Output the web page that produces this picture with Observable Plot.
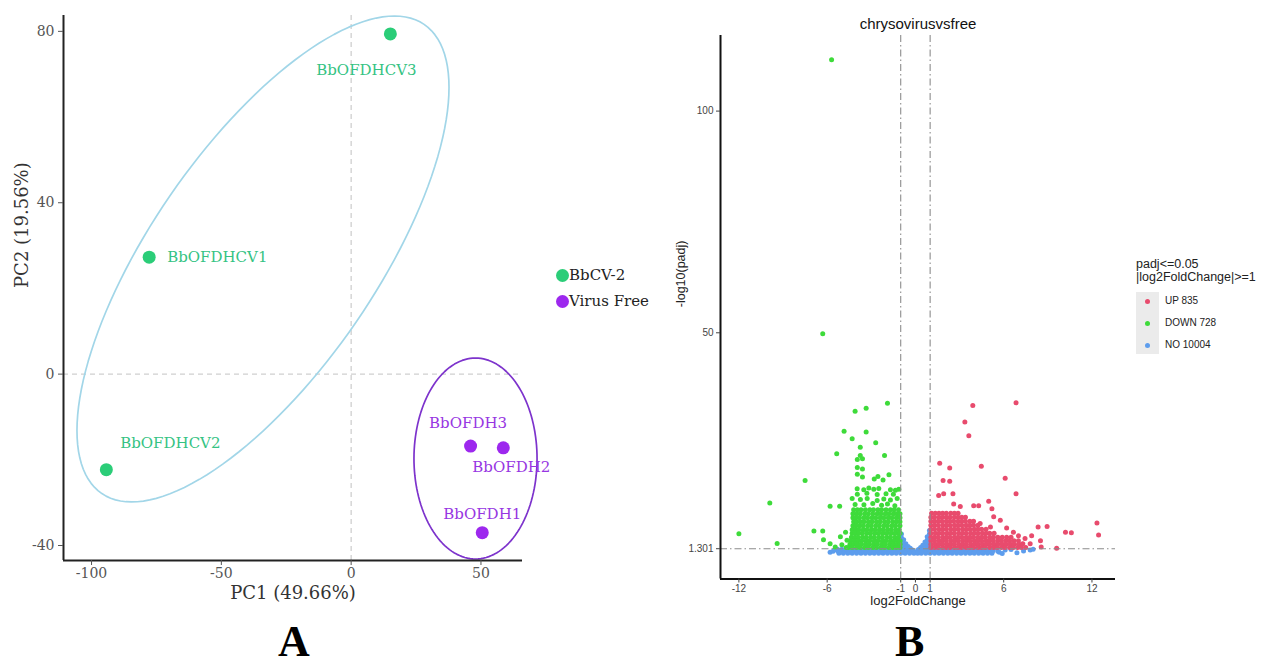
<!DOCTYPE html>
<html>
<head>
<meta charset="utf-8">
<script src="https://cdn.jsdelivr.net/npm/d3@7"></script>
<script src="https://cdn.jsdelivr.net/npm/@observablehq/plot@0.6"></script>
<style>
html,body{margin:0;padding:0;background:#fff;}
body{width:1267px;height:664px;position:relative;overflow:hidden;}
.abs{position:absolute;white-space:nowrap;}
#panelA{position:absolute;left:0;top:0;}
#panelB{position:absolute;left:640px;top:0;}
.tag{font-family:"Liberation Serif",serif;font-weight:bold;font-size:44px;line-height:40px;height:40px;color:#000;}
</style>
</head>
<body>
<div id="panelA"></div>
<div id="panelB"></div>
<div id="legendA"></div>
<div id="legendB"></div>
<div class="abs tag" style="left:278px;top:622px;">A</div>
<div class="abs tag" style="left:895px;top:622px;">B</div>
<script>
// ---------------- Panel A : PCA ----------------
const sampleNames  = ["BbOFDHCV1","BbOFDHCV2","BbOFDHCV3","BbOFDH1","BbOFDH2","BbOFDH3"];
const sampleGroups = ["BbCV-2","BbCV-2","BbCV-2","Virus Free","Virus Free","Virus Free"];
const pc1Values    = [-77.8, -94.3, 15.1, 50.5, 58.6, 46.0];
const pc2Values    = [27.3, -22.3, 79.4, -37.0, -17.2, -16.8];
const pcaXTicks    = [-100, -50, 0, 50];
const pcaYTicks    = [-40, 0, 40, 80];
const pcaXLabel    = "PC1 (49.66%)";
const pcaYLabel    = "PC2 (19.56%)";
const groupNames   = ["BbCV-2", "Virus Free"];
// confidence ellipses (centre and covariance, data units)
const ellipseCenterX = [-33.96, 47.9];
const ellipseCenterY = [26.87, -19.7];
const ellipseVarX    = [5134, 562];
const ellipseVarY    = [3216, 550];
const ellipseCovXY   = [2869, 0];

// ---------------- Panel B : volcano ----------------
const volcanoTitle  = "chrysovirusvsfree";
const volcanoXLabel = "log2FoldChange";
const volcanoYLabel = "-log10(padj)";
const volcanoXTicks = [-12, -6, -1, 0, 1, 6, 12];
const volcanoYTicks = [1.301, 50, 100];
const fcThreshold   = [-1, 1];
const padjThreshold = [1.301];
const legendBTitle  = ["padj<=0.05", "|log2FoldChange|>=1"];
const legendBLabels = ["UP 835", "DOWN 728", "NO 10004"];

// DOWN genes: isolated points [log2FC, -log10(padj)]
const downScatter = [
  [-5.7,111.6],[-6.3,49.8],
  [-1.9,34.1],[-3.35,33.0],[-4.1,32.3],[-4.85,27.8],[-3.35,27.6],[-4.3,26.1],[-2.7,25.2],[-3.75,24.2],
  [-5.35,22.7],[-2.1,22.3],[-3.75,22.3],[-3.95,21.4],[-3.6,21.6],[-3.95,19.6],[-3.6,19.3],[-3.95,18.1],
  [-3.6,17.5],[-2.55,17.6],[-1.8,18.0],[-2.2,16.8],[-2.8,17.0],[-7.5,16.7],
  [-3.96,14.8],[-3.51,14.6],[-3.17,15.0],[-2.83,14.7],[-2.49,14.9],[-1.7,14.6],[-1.36,14.5],[-1.13,14.7],
  [-3.95,13.6],[-3.3,13.8],[-2.6,13.5],[-2.0,13.7],[-1.5,13.6],
  [-4.3,12.6],[-3.74,12.4],[-3.28,12.6],[-2.6,12.2],[-2.15,12.5],[-1.7,12.3],[-1.24,12.6],
  [-4.1,11.3],[-3.5,11.2],[-2.9,11.5],[-2.3,11.1],[-1.9,11.4],[-1.4,11.0],
  [-9.9,11.6],[-5.8,10.9],[-5.15,10.9],
  [-12.0,4.7],[-9.4,2.5],[-6.9,5.3],[-6.3,5.3],[-6.25,3.3],[-5.8,2.4],[-5.45,1.7],[-5.1,4.0],
  [-4.65,3.2],[-4.75,5.0],[-5.0,2.2],[-4.7,1.6]
];
// DOWN genes: dense block, rows of [-log10(padj), log2FC values]
const downRows = [
  [10.1,[-4.2,-3.95,-3.7,-3.4,-3.1,-2.85,-2.55,-2.3,-2.0,-1.7,-1.45,-1.15]],
  [9.2,[-4.25,-4.0,-3.75,-3.45,-3.2,-2.9,-2.6,-2.35,-2.05,-1.8,-1.5,-1.25,-1.05]],
  [8.3,[-4.25,-4.05,-3.8,-3.5,-3.25,-2.95,-2.7,-2.4,-2.15,-1.85,-1.6,-1.3,-1.05]],
  [7.4,[-4.2,-4.0,-3.75,-3.5,-3.2,-2.95,-2.65,-2.4,-2.1,-1.85,-1.55,-1.3,-1.05]],
  [6.5,[-4.25,-4.05,-3.8,-3.55,-3.25,-3.0,-2.7,-2.45,-2.15,-1.9,-1.6,-1.35,-1.05]],
  [5.6,[-4.3,-4.05,-3.85,-3.55,-3.3,-3.0,-2.75,-2.45,-2.2,-1.9,-1.65,-1.35,-1.1]],
  [4.8,[-4.3,-4.1,-3.85,-3.6,-3.3,-3.05,-2.75,-2.5,-2.2,-1.95,-1.65,-1.4,-1.15,-1.04]],
  [3.9,[-4.35,-4.1,-3.9,-3.6,-3.35,-3.05,-2.8,-2.5,-2.25,-1.95,-1.7,-1.4,-1.15]],
  [3.1,[-4.4,-4.15,-3.9,-3.65,-3.35,-3.1,-2.8,-2.55,-2.25,-2.0,-1.7,-1.45,-1.2,-1.04]],
  [2.3,[-4.45,-4.2,-3.95,-3.7,-3.4,-3.15,-2.85,-2.6,-2.3,-2.05,-1.75,-1.5,-1.25,-1.04]],
  [1.55,[-4.55,-4.3,-4.0,-3.75,-3.45,-3.2,-2.9,-2.65,-2.35,-2.1,-1.8,-1.55,-1.3,-1.05]]
];
// UP genes: isolated points
const upScatter = [
  [3.9,33.6],[6.84,34.2],[3.36,29.9],[3.63,26.8],[1.65,20.6],[2.33,19.5],[4.48,19.9],[1.88,16.7],
  [2.33,16.5],[6.1,17.2],[6.84,13.7],[1.58,13.3],[1.92,13.7],[2.55,13.7],[3.96,11.0],[4.3,11.0],
  [5.2,10.3],[4.98,12.0],[2.6,11.4],[3.05,10.8],[5.77,7.7],[5.32,8.5],[5.1,6.2],[4.4,7.0],
  [6.2,6.0],[6.66,5.0],[7.0,4.2],[7.45,3.6],[7.9,4.2],[8.34,6.2],[8.95,6.3],[10.2,5.0],[10.6,4.9],
  [12.34,7.1],[12.45,4.4],[9.6,1.4],[8.5,3.1],[8.55,1.7],[7.3,2.4],[7.8,2.4]
];
// UP genes: dense block rows
const upRows = [
  [9.3,[1.1,1.35,1.6,1.85,2.1,2.4,2.65,2.9]],
  [8.4,[1.05,1.3,1.6,1.85,2.1,2.35,2.65,2.9,3.15,3.4]],
  [7.5,[1.05,1.3,1.55,1.8,2.1,2.35,2.6,2.9,3.15,3.4,3.7,3.95]],
  [6.6,[1.05,1.3,1.55,1.85,2.1,2.35,2.65,2.9,3.15,3.45,3.7,3.95,4.25]],
  [5.7,[1.05,1.3,1.6,1.85,2.1,2.4,2.65,2.9,3.2,3.45,3.7,4.0,4.25,4.5,4.8]],
  [4.8,[1.05,1.35,1.6,1.85,2.15,2.4,2.65,2.95,3.2,3.45,3.75,4.0,4.25,4.55,4.8,5.05,5.35]],
  [3.9,[1.05,1.3,1.55,1.85,2.1,2.35,2.65,2.9,3.15,3.45,3.7,3.95,4.25,4.5,4.75,5.05,5.3,5.6,5.9,6.2,6.5]],
  [3.1,[1.05,1.3,1.6,1.85,2.1,2.4,2.65,2.9,3.2,3.45,3.7,4.0,4.25,4.5,4.8,5.05,5.3,5.6,5.85,6.15,6.4,6.7,7.0]],
  [2.3,[1.05,1.35,1.6,1.85,2.15,2.4,2.65,2.95,3.2,3.45,3.75,4.0,4.25,4.55,4.8,5.05,5.35,5.6,5.9,6.15,6.45,6.7,7.0,7.25]],
  [1.55,[1.05,1.3,1.55,1.85,2.1,2.35,2.65,2.9,3.15,3.45,3.7,3.95,4.25,4.5,4.75,5.05,5.3,5.55,5.85,6.1,6.4,6.65,6.95,7.2,7.5]]
];
// NO genes: isolated points (incl. the V between -1 and 1)
const noScatter = [
  [-0.95,4.6],[-0.95,3.8],[-0.95,3.0],[-0.95,2.2],[-0.8,3.3],[-0.8,2.5],[-0.8,1.8],[-0.65,2.4],[-0.65,1.7],
  [-0.5,1.8],[-0.35,1.4],[-0.2,1.0],[0.0,0.6],
  [0.95,5.4],[0.95,4.6],[0.95,3.8],[0.95,3.0],[0.95,2.2],[0.8,4.0],[0.8,3.2],[0.8,2.4],[0.8,1.7],
  [0.65,2.8],[0.65,2.0],[0.5,2.1],[0.35,1.6],[0.2,1.1],
  [5.7,0.5],[6.1,1.0],[6.5,1.1],[6.9,0.4],[7.35,0.8],[7.8,1.0],[8.0,1.2],[-5.8,0.5],[-5.5,1.0],[5.9,0.2]
];
// NO genes: dense band rows
const noRows = [
  [1.2,[-5.3,-5.0,-4.7,-4.4,-4.1,-3.8,-3.5,-3.2,-2.9,-2.6,-2.3,-2.0,-1.7,-1.4,-1.1,-0.8,-0.5,0.5,0.8,1.1,1.4,1.7,2.0,2.3,2.6,2.9,3.2,3.5,3.8,4.1,4.4,4.7,5.0,5.3]],
  [0.75,[-5.6,-5.25,-4.95,-4.65,-4.35,-4.05,-3.75,-3.45,-3.15,-2.85,-2.55,-2.25,-1.95,-1.65,-1.35,-1.05,-0.75,-0.45,-0.2,0.2,0.45,0.75,1.05,1.35,1.65,1.95,2.25,2.55,2.85,3.15,3.45,3.75,4.05,4.35,4.65,4.95,5.25,5.6]],
  [0.3,[-5.2,-4.9,-4.6,-4.3,-4.0,-3.7,-3.4,-3.1,-2.8,-2.5,-2.2,-1.9,-1.6,-1.3,-1.0,-0.7,-0.4,-0.1,0.15,0.4,0.7,1.0,1.3,1.6,1.9,2.2,2.5,2.8,3.1,3.4,3.7,4.0,4.3,4.6,4.9,5.2]]
];

// ---------------- styles ----------------
const pointColor   = {"BbCV-2": "#2bcd78", "Virus Free": "#9d28ee"};
const labelColor   = {"BbCV-2": "#35c383", "Virus Free": "#9736e2"};
const ellipseColor = {"BbCV-2": "#a2d6e8", "Virus Free": "#7d33cc"};
const volcanoColor = {UP: "#e84b6d", DOWN: "#3edb3a", NO: "#5d9ded"};
const labelPlace = {
  BbOFDHCV1: [18, 0, "start"], BbOFDHCV2: [64, -26, "middle"], BbOFDHCV3: [-24, 36, "middle"],
  BbOFDH1: [0, -18, "middle"], BbOFDH2: [8, 19.5, "middle"], BbOFDH3: [-2.5, -22.5, "middle"]
};

// ---------------- build tables ----------------
const samples = sampleNames.map((name, i) => ({name, group: sampleGroups[i], pc1: pc1Values[i], pc2: pc2Values[i]}));
const ellipsePts = [];
groupNames.forEach((g, i) => {
  const l11 = Math.sqrt(ellipseVarX[i]);
  const l21 = ellipseCovXY[i] / l11;
  const l22 = Math.sqrt(ellipseVarY[i] - l21 * l21);
  for (let k = 0; k <= 144; k++) {
    const t = 2 * Math.PI * k / 144;
    ellipsePts.push({group: g, pc1: ellipseCenterX[i] + l11 * Math.cos(t), pc2: ellipseCenterY[i] + l21 * Math.cos(t) + l22 * Math.sin(t)});
  }
});
const toGenes = (pairs, rows, cls) => pairs.map(([x, y]) => ({lfc: x, nlp: y, cls}))
  .concat(rows.flatMap(([y, xs]) => xs.map(x => ({lfc: x, nlp: y, cls}))));
const noGenes = toGenes(noScatter, noRows, "NO");
const downGenes = toGenes(downScatter, downRows, "DOWN");
const upGenes = toGenes(upScatter, upRows, "UP");

// ---------------- Panel A ----------------
const xDomA = [-110.8, 66], yDomA = [-43.5, 83.7];
const plotA = Plot.plot({
  width: 560, height: 620,
  marginLeft: 63, marginRight: 38, marginTop: 15, marginBottom: 60,
  style: {fontFamily: "DejaVu Serif, serif", background: "transparent", overflow: "visible"},
  x: {domain: xDomA, label: null},
  y: {domain: yDomA, label: null},
  color: {type: "identity"},
  marks: [
    Plot.ruleX([0], {stroke: "#cfcfcf", strokeDasharray: "5,4", strokeWidth: 1.3}),
    Plot.ruleY([0], {stroke: "#cfcfcf", strokeDasharray: "5,4", strokeWidth: 1.3}),
    Plot.line(ellipsePts, {x: "pc1", y: "pc2", z: "group", stroke: d => ellipseColor[d.group], strokeWidth: 1.7}),
    Plot.dot(samples, {x: "pc1", y: "pc2", r: 6.5, fill: d => pointColor[d.group]}),
    ...samples.map(s => Plot.text([s], {
      x: "pc1", y: "pc2", text: "name", fontSize: 15,
      fill: labelColor[s.group], dx: labelPlace[s.name][0], dy: labelPlace[s.name][1], textAnchor: labelPlace[s.name][2]
    })),
    Plot.ruleY([yDomA[0]], {stroke: "#222", strokeWidth: 2}),
    Plot.ruleX([xDomA[0]], {stroke: "#222", strokeWidth: 2}),
    Plot.axisX({ticks: pcaXTicks, tickFormat: d => String(d), tickSize: 5, tickPadding: 3, fontSize: 14, color: "#555", label: null}),
    Plot.axisY({ticks: pcaYTicks, tickFormat: d => String(d), tickSize: 5, tickPadding: 4, fontSize: 14, color: "#555", label: null}),
    Plot.text([pcaXLabel], {frameAnchor: "bottom", dy: 38, fontSize: 18, fill: "#333"}),
    Plot.text([pcaYLabel], {frameAnchor: "left", dx: -41, rotate: -90, fontSize: 18, fill: "#333"})
  ]
});
document.getElementById("panelA").append(plotA);

// legend A
const legA = document.getElementById("legendA");
groupNames.forEach((g, i) => {
  const y = 275 + i * 26;
  const dot = document.createElement("div");
  dot.className = "abs";
  dot.style.cssText = `left:${562 - 6.5}px;top:${y - 6.5}px;width:13px;height:13px;border-radius:50%;background:${pointColor[g]};`;
  legA.append(dot);
  const t = document.createElement("div");
  t.className = "abs";
  t.style.cssText = `left:569px;top:${y - 10}px;height:20px;line-height:20px;font-family:'DejaVu Serif',serif;font-size:15px;color:#222;`;
  t.textContent = g;
  legA.append(t);
});

// ---------------- Panel B ----------------
const xDomB = [-13.25, 13.6], yDomB = [-5.53, 117.05];
const dashB = {stroke: "#8c8c8c", strokeDasharray: "7,3,1.5,3", strokeWidth: 1.1};
const plotB = Plot.plot({
  width: 627, height: 620,
  marginLeft: 80, marginRight: 152, marginTop: 35, marginBottom: 41.5,
  style: {fontFamily: "Liberation Sans, Arial, sans-serif", background: "transparent", overflow: "visible"},
  x: {domain: xDomB, label: null},
  y: {domain: yDomB, label: null},
  color: {type: "identity"},
  marks: [
    Plot.dot(noGenes, {x: "lfc", y: "nlp", r: 2.5, fill: volcanoColor.NO}),
    Plot.dot(downGenes, {x: "lfc", y: "nlp", r: 2.5, fill: volcanoColor.DOWN}),
    Plot.dot(upGenes, {x: "lfc", y: "nlp", r: 2.5, fill: volcanoColor.UP}),
    Plot.ruleX(fcThreshold, dashB),
    Plot.ruleY(padjThreshold, dashB),
    Plot.ruleY([yDomB[0]], {stroke: "#111", strokeWidth: 2}),
    Plot.ruleX([xDomB[0]], {stroke: "#111", strokeWidth: 2}),
    Plot.axisX({ticks: volcanoXTicks, tickFormat: d => String(d), tickSize: 4, tickPadding: 2, fontSize: 10, color: "#444", label: null}),
    Plot.axisY({ticks: volcanoYTicks, tickFormat: d => String(d), tickSize: 4, tickPadding: 3, fontSize: 10, color: "#444", label: null}),
    Plot.text([volcanoTitle], {frameAnchor: "top", dy: -17, fontSize: 15, fill: "#111"}),
    Plot.text([volcanoXLabel], {frameAnchor: "bottom", dy: 25.5, fontSize: 13, fill: "#222"}),
    Plot.text([volcanoYLabel], {frameAnchor: "left", dx: -40, rotate: -90, fontSize: 12.5, fill: "#222"})
  ]
});
document.getElementById("panelB").append(plotB);

// legend B
const legB = document.getElementById("legendB");
const lt = document.createElement("div");
lt.className = "abs";
lt.style.cssText = "left:1136px;top:258px;line-height:13px;font-family:'Liberation Sans',Arial,sans-serif;font-size:12.5px;color:#222;";
lt.innerHTML = legendBTitle.map(s => s.replace(/</g, "&lt;").replace(/>/g, "&gt;")).join("<br>");
legB.append(lt);
const box = document.createElement("div");
box.className = "abs";
box.style.cssText = "left:1136px;top:292px;width:23px;height:62px;background:#ebebeb;";
legB.append(box);
["UP", "DOWN", "NO"].forEach((k, i) => {
  const y = 301 + i * 22;
  const d = document.createElement("div");
  d.className = "abs";
  d.style.cssText = `left:${1147 - 2.5}px;top:${y - 2.5}px;width:5px;height:5px;border-radius:50%;background:${volcanoColor[k]};`;
  legB.append(d);
  const t = document.createElement("div");
  t.className = "abs";
  t.style.cssText = `left:1165px;top:${y - 7}px;height:14px;line-height:14px;font-family:'Liberation Sans',Arial,sans-serif;font-size:10px;color:#222;`;
  t.textContent = legendBLabels[i];
  legB.append(t);
});
</script>
</body>
</html>
